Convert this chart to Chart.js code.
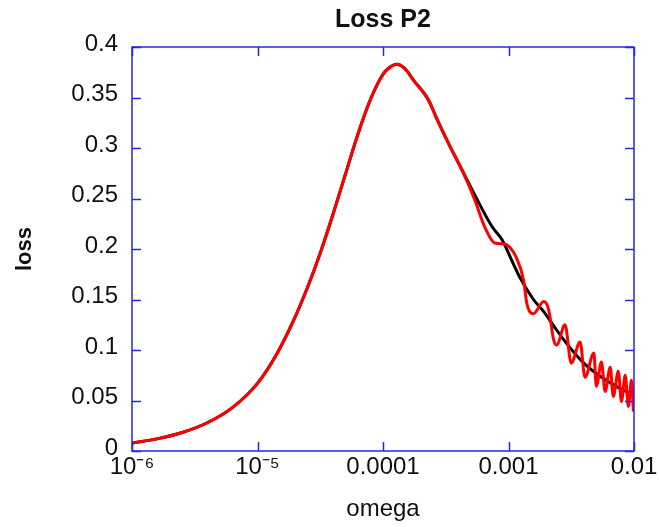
<!DOCTYPE html>
<html>
<head>
<meta charset="utf-8">
<script src="https://cdn.jsdelivr.net/npm/chart.js@4/dist/chart.umd.min.js"></script>
<style>
  html, body { margin: 0; padding: 0; background: #ffffff; }
  #wrap { width: 660px; height: 527px; position: relative; }
</style>
</head>
<body>
<div id="wrap"><canvas id="c" width="660" height="527"></canvas></div>
<script>
// ---- data ----
const omegaBlack = [1.0e-6, 1.58e-6, 2.51e-6, 3.98e-6, 6.31e-6, 1.00e-5, 1.41e-5, 1.91e-5, 2.51e-5, 3.16e-5,
  3.98e-5, 5.01e-5, 6.31e-5, 7.94e-5, 1.00e-4, 1.12e-4, 1.29e-4, 1.48e-4, 1.78e-4, 2.29e-4,
  2.75e-4, 3.31e-4, 4.27e-4, 5.62e-4, 7.41e-4, 8.91e-4, 1.05e-3, 1.23e-3, 1.58e-3, 1.91e-3,
  2.29e-3, 2.88e-3, 3.98e-3, 5.37e-3, 7.24e-3, 1.0e-2];
const lossBlack = [0.0078, 0.0120, 0.0183, 0.0280, 0.0430, 0.0670, 0.0950, 0.1275, 0.1624, 0.1959,
  0.2336, 0.2737, 0.3137, 0.3480, 0.3730, 0.3795, 0.3830, 0.3790, 0.3660, 0.3480,
  0.3260, 0.3050, 0.2780, 0.2490, 0.2220, 0.2090, 0.1900, 0.1720, 0.1500, 0.1380,
  0.1240, 0.1070, 0.0870, 0.0740, 0.0640, 0.0550];

const omegaRed = [1.0e-6, 1.58e-6, 2.51e-6, 3.98e-6, 6.31e-6, 1.00e-5, 1.41e-5, 1.91e-5, 2.51e-5, 3.16e-5,
  3.98e-5, 5.01e-5, 6.31e-5, 7.94e-5, 1.00e-4, 1.12e-4, 1.29e-4, 1.48e-4, 1.78e-4, 2.29e-4,
  2.75e-4, 3.31e-4, 4.27e-4, 5.37e-4, 6.46e-4, 7.76e-4, 9.33e-4, 1.02e-3, 1.15e-3, 1.32e-3,
  1.40e-3, 1.58e-3, 1.91e-3, 2.09e-3, 2.29e-3, 2.42e-3, 2.82e-3, 3.16e-3, 3.72e-3, 4.07e-3,
  4.79e-3, 5.01e-3, 5.50e-3, 5.89e-3, 6.46e-3, 6.84e-3, 7.50e-3, 7.94e-3, 8.51e-3, 9.02e-3,
  9.55e-3, 9.89e-3];
const lossRed = [0.0078, 0.0120, 0.0183, 0.0280, 0.0430, 0.0670, 0.0950, 0.1275, 0.1624, 0.1959,
  0.2336, 0.2737, 0.3137, 0.3480, 0.3730, 0.3795, 0.3830, 0.3790, 0.3660, 0.3480,
  0.3260, 0.3050, 0.2780, 0.2490, 0.2220, 0.2060, 0.2050, 0.2020, 0.1920, 0.1690,
  0.1460, 0.1360, 0.1480, 0.1400, 0.1100, 0.1050, 0.1250, 0.0870, 0.1080, 0.0730,
  0.0970, 0.0640, 0.0880, 0.0590, 0.0830, 0.0540, 0.0790, 0.0490, 0.0750, 0.0440,
  0.0700, 0.0390];

const xTickValues = [1e-6, 1e-5, 1e-4, 1e-3, 1e-2];
const xTickLabels = ["10\u207B\u2076", "10\u207B\u2075", "0.0001", "0.001", "0.01"];
const yTickValues = [0, 0.05, 0.1, 0.15, 0.2, 0.25, 0.3, 0.35, 0.4];
const yTickLabels = ["0", "0.05", "0.1", "0.15", "0.2", "0.25", "0.3", "0.35", "0.4"];

const titleText = "Loss P2";
const xTitle = "omega";
const yTitle = "loss";

// ---- styling ----
const AXIS_BLUE = "rgb(38,38,235)";
const FONT = "'Liberation Sans', Arial, Helvetica, sans-serif";
const TEXT = "#111111";

const toPoints = (xs, ys) => xs.map((x, i) => ({ x: x, y: ys[i] }));

const frameTicks = {
  id: 'frameTicks',
  afterDraw(chart) {
    const { ctx, chartArea: a, scales } = chart;
    const len = 9;
    ctx.save();
    // title centred over the plot area
    ctx.fillStyle = TEXT;
    ctx.font = "bold 25px " + FONT;
    ctx.textAlign = 'center';
    ctx.textBaseline = 'alphabetic';
    ctx.fillText(titleText, (a.left + a.right) / 2, 27);
    // blue frame with inward ticks
    ctx.strokeStyle = AXIS_BLUE;
    ctx.lineWidth = 1.5;
    ctx.beginPath();
    ctx.rect(a.left, a.top, a.right - a.left, a.bottom - a.top);
    ctx.stroke();
    ctx.beginPath();
    xTickValues.forEach(v => {
      const px = Math.round(scales.x.getPixelForValue(v)) + 0.5;
      ctx.moveTo(px, a.bottom); ctx.lineTo(px, a.bottom - len);
      ctx.moveTo(px, a.top); ctx.lineTo(px, a.top + len);
    });
    yTickValues.forEach(v => {
      const py = Math.round(scales.y.getPixelForValue(v)) + 0.5;
      ctx.moveTo(a.left, py); ctx.lineTo(a.left + len, py);
      ctx.moveTo(a.right, py); ctx.lineTo(a.right - len, py);
    });
    ctx.stroke();
    ctx.restore();
  }
};

new Chart(document.getElementById('c'), {
  type: 'line',
  data: {
    datasets: [
      {
        label: 'black',
        data: toPoints(omegaBlack, lossBlack),
        borderColor: '#000000',
        borderWidth: 3,
        pointRadius: 0,
        cubicInterpolationMode: 'monotone',
        fill: false,
        order: 1
      },
      {
        label: 'red',
        data: toPoints(omegaRed, lossRed),
        borderColor: '#ff0000',
        borderWidth: 3,
        pointRadius: 0,
        cubicInterpolationMode: 'monotone',
        fill: false,
        order: 0
      }
    ]
  },
  options: {
    responsive: false,
    animation: false,
    devicePixelRatio: 1,
    layout: { padding: { left: 0, right: 26, top: 47, bottom: 0 } },
    plugins: {
      legend: { display: false },
      tooltip: { enabled: false },
      title: { display: false }
    },
    scales: {
      x: {
        type: 'logarithmic',
        min: 1e-6,
        max: 1e-2,
        afterBuildTicks: (scale) => { scale.ticks = xTickValues.map(v => ({ value: v })); },
        afterFit: (scale) => { scale.height = 76; },
        grid: { display: false, drawTicks: false },
        border: { display: false },
        ticks: {
          autoSkip: false,
          maxRotation: 0,
          padding: 2,
          color: TEXT,
          font: { family: FONT, size: 24 },
          callback: (v, i) => xTickLabels[i]
        },
        title: {
          display: true,
          text: xTitle,
          color: TEXT,
          font: { family: FONT, size: 24 },
          padding: { top: 0, bottom: 3 }
        }
      },
      y: {
        min: 0,
        max: 0.4,
        afterBuildTicks: (scale) => { scale.ticks = yTickValues.map(v => ({ value: v })); },
        afterFit: (scale) => { scale.width = 132; },
        grid: { display: false, drawTicks: false },
        border: { display: false },
        ticks: {
          autoSkip: false,
          padding: 14,
          labelOffset: -3,
          color: TEXT,
          font: { family: FONT, size: 24 },
          callback: (v, i) => yTickLabels[i]
        },
        title: {
          display: true,
          text: yTitle,
          color: TEXT,
          font: { family: FONT, size: 22, weight: 'bold' },
          padding: { top: 12, bottom: 0 }
        }
      }
    }
  },
  plugins: [frameTicks]
});
</script>
</body>
</html>
